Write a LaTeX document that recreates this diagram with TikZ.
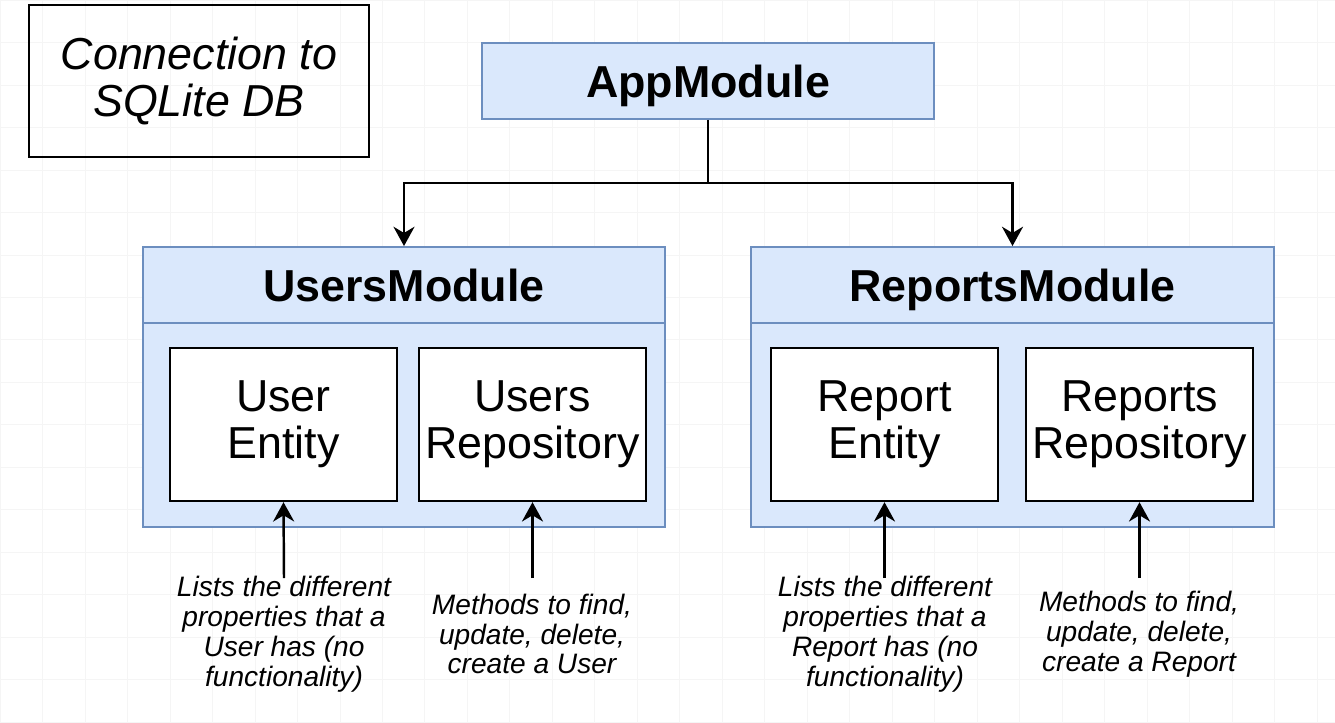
\documentclass[tikz,border=0pt]{standalone}
\usepackage{fontspec}
\setmainfont{Liberation Sans}
\usetikzlibrary{arrows.meta}
\definecolor{modfill}{HTML}{DAE8FC}
\definecolor{moddraw}{HTML}{6C8EBF}

\begin{document}
\begin{tikzpicture}[x=0.02cm,y=-0.02cm,>={Stealth[length=11pt,width=12pt]},line width=1.4pt,
    mod head/.style={draw=moddraw,fill=modfill,line width=1.1pt,minimum width=10.44cm,minimum height=1.52cm,inner sep=0pt,text height=18.3pt,text depth=0pt,font=\bfseries\fontsize{25.5}{26.7}\selectfont},
    mod body/.style={draw=moddraw,fill=modfill,line width=1.1pt,minimum width=10.44cm,minimum height=4.08cm,inner sep=0pt},
    part node/.style={draw,fill=white,minimum width=4.54cm,minimum height=3.06cm,inner sep=0pt,align=center,font=\fontsize{25.5}{26.7}\selectfont},
    note node/.style={align=center,inner sep=0pt,font=\itshape\fontsize{16}{17}\selectfont}]
            \useasboundingbox (0,0) rectangle (1335,723);
            \fill[white] (0,0) rectangle (1335,723);
            \draw[black!4,line width=0.5pt] (0,0) grid[step=0.85cm] (1335,723);

            \node[draw,minimum width=6.8cm,minimum height=3.04cm,align=center,font=\itshape\fontsize{25.5}{26.7}\selectfont] (conn) at (199,81) {Connection to\\SQLite DB};
            \node[mod head,minimum width=9.04cm] (app) at (708,81) {AppModule};

            \node[mod body] (usersbody) at (404,425) {};
            \node[mod head] (users) at (404,285) {UsersModule};
            \node[mod body,minimum width=10.46cm] (reportsbody) at (1012.5,425) {};
            \node[mod head,minimum width=10.46cm] (reports) at (1012.5,285) {ReportsModule};

            \node[part node] (userent) at (283.5,424.5) {User\\Entity};
            \node[part node] (usersrepo) at (532.5,424.5) {Users\\Repository};
            \node[part node] (reportent) at (884.5,424.5) {Report\\Entity};
            \node[part node] (reportsrepo) at (1139.5,424.5) {Reports\\Repository};

            \node[note node] (note1) at (284,634) {Lists the different\\properties that a\\User has (no\\functionality)};
            \node[note node] (note2) at (532,634) {Methods to find,\\update, delete,\\create a User};
            \node[note node] (note3) at (885,634) {Lists the different\\properties that a\\Report has (no\\functionality)};
            \node[note node] (note4) at (1139,634) {Methods to find,\\update, delete,\\create a Report};

            \coordinate (split) at (708,183);
            \coordinate (t1) at (284,578);
            \coordinate (t2) at (532.5,578);
            \coordinate (t3) at (884.5,578);
            \coordinate (t4) at (1139.5,578);

            \draw (app.south) -- (split);
            \draw[->] (split) -| (users.north);
            \draw[->] (split) -| (reports.north);
            \draw[->] (t1) -- (userent.south);
            \draw[->] (t2) -- (usersrepo.south);
            \draw[->] (t3) -- (reportent.south);
            \draw[->] (t4) -- (reportsrepo.south);
        \end{tikzpicture}
\end{document}
